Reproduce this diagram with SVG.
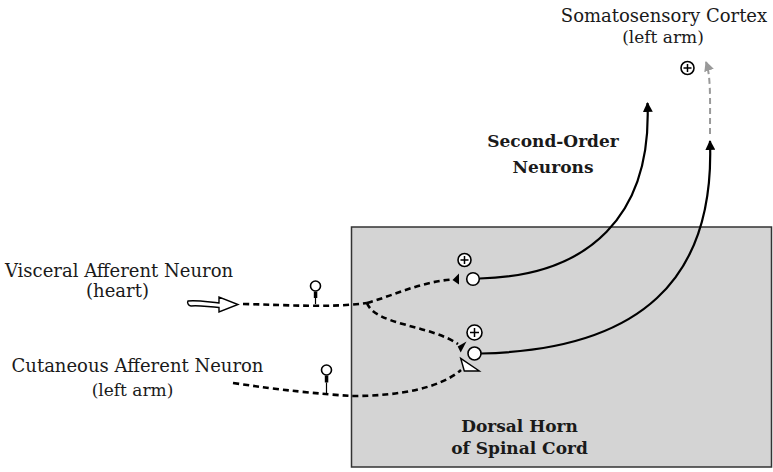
<svg xmlns="http://www.w3.org/2000/svg" width="773" height="472" viewBox="0 0 773 472">
<defs>
<style>
.t{font-family:"DejaVu Serif","Liberation Serif",serif;font-size:18px;fill:#1a1a1a;text-anchor:middle}
.s{font-size:17px}
.b{font-family:"DejaVu Serif","Liberation Serif",serif;font-size:17px;font-weight:bold;fill:#1a1a1a;text-anchor:middle}
.dash{fill:none;stroke:#000;stroke-width:2.6;stroke-dasharray:6 4}
.solid{fill:none;stroke:#000;stroke-width:2.2}
.node{fill:#fff;stroke:#000;stroke-width:1.6}
.plus{stroke:#000;stroke-width:1.5}
</style>
<marker id="ah" viewBox="0 0 10 10" refX="9" refY="5" markerWidth="4.5" markerHeight="4.5" orient="auto" markerUnits="strokeWidth">
<path d="M0,0 L10,5 L0,10 Z" fill="#000"/>
</marker>
<marker id="ahg" viewBox="0 0 10 10" refX="9" refY="5" markerWidth="5" markerHeight="5" orient="auto" markerUnits="strokeWidth">
<path d="M0,0 L10,5 L0,10 Z" fill="#999"/>
</marker>
</defs>
<rect width="773" height="472" fill="#fff"/>

<g id="dorsal-horn">
<rect x="351.5" y="227" width="420" height="240" fill="#d4d4d4" stroke="#333" stroke-width="1.5"/>
<text class="b" x="519.5" y="431.5">Dorsal Horn</text>
<text class="b" x="519.5" y="454">of Spinal Cord</text>
</g>

<g id="cortex">
<text class="t" x="664" y="22">Somatosensory Cortex</text>
<text class="t s" x="663" y="43">(left arm)</text>
<circle class="node" cx="687.5" cy="68" r="6.5"/>
<path class="plus" d="M683.5,68 H691.5 M687.5,64 V72"/>
</g>

<g id="second-order-label">
<text class="b" x="553" y="147">Second-Order</text>
<text class="b" x="553" y="173">Neurons</text>
</g>

<g id="visceral">
<text class="t" x="119" y="277">Visceral Afferent Neuron</text>
<text class="t" x="117.5" y="297">(heart)</text>
<path d="M188,301 C198,300 208,302 219,303 L219,297 L238,304.5 L219,312 L219,307.5 C208,307 199,305 191,306 C188,305.5 187,302.5 188,301 Z" fill="#fff" stroke="#000" stroke-width="1.4" stroke-linejoin="miter"/>
<circle class="node" cx="315.5" cy="286" r="5"/>
<rect x="313.8" y="291.5" width="3.5" height="6.5" fill="#000"/>
<line x1="315.5" y1="298" x2="315.5" y2="304" stroke="#000" stroke-width="1.2"/>
</g>

<g id="cutaneous">
<text class="t" x="137.5" y="371.5">Cutaneous Afferent Neuron</text>
<text class="t s" x="132.5" y="396">(left arm)</text>
<circle class="node" cx="326.5" cy="370" r="5"/>
<rect x="324.8" y="375.5" width="3.5" height="7" fill="#000"/>
<line x1="326.5" y1="382.5" x2="326.5" y2="393" stroke="#000" stroke-width="1.2"/>
</g>

<g id="synapse-upper">
<polygon points="459,273.5 459,284.5 452.5,280" fill="#000"/>
<circle class="node" cx="473" cy="279" r="6.3"/>
<circle class="node" cx="464.5" cy="260" r="6.5"/>
<path class="plus" d="M460.5,260 H468.5 M464.5,256 V264"/>
</g>

<g id="synapse-lower">
<polygon points="466.5,341.5 457.7,346.5 460.7,352.5" fill="#000"/>
<polygon points="460.7,358.3 479.3,371 464.3,371" fill="#fff" stroke="#000" stroke-width="1.4" stroke-linejoin="miter"/>
<circle class="node" cx="474.5" cy="353.5" r="6.5"/>
<circle class="node" cx="474.5" cy="332.5" r="7.5"/>
<path class="plus" d="M470,332.5 H479 M474.5,328 V337"/>
</g>

<g id="connectors">
<path class="dash" d="M243,304 C290,305 330,308 367,303"/>
<path class="dash" d="M367,303 C395,295 420,282 452,279.5"/>
<path class="dash" d="M367,303 C375,325 430,325 458,344"/>
<path class="dash" d="M233,383 C280,390 320,394 352,396 C400,396 440,388 461,370"/>
<path class="solid" d="M479.5,278.5 C590,276 652,215 647.5,103" marker-end="url(#ah)"/>
<path class="solid" d="M481,353.5 C640,350 715,280 710,141" marker-end="url(#ah)"/>
<path d="M710,134 C710,100 711,76 706,62" fill="none" stroke="#999" stroke-width="2" stroke-dasharray="6 4" marker-end="url(#ahg)"/>
</g>
</svg>
